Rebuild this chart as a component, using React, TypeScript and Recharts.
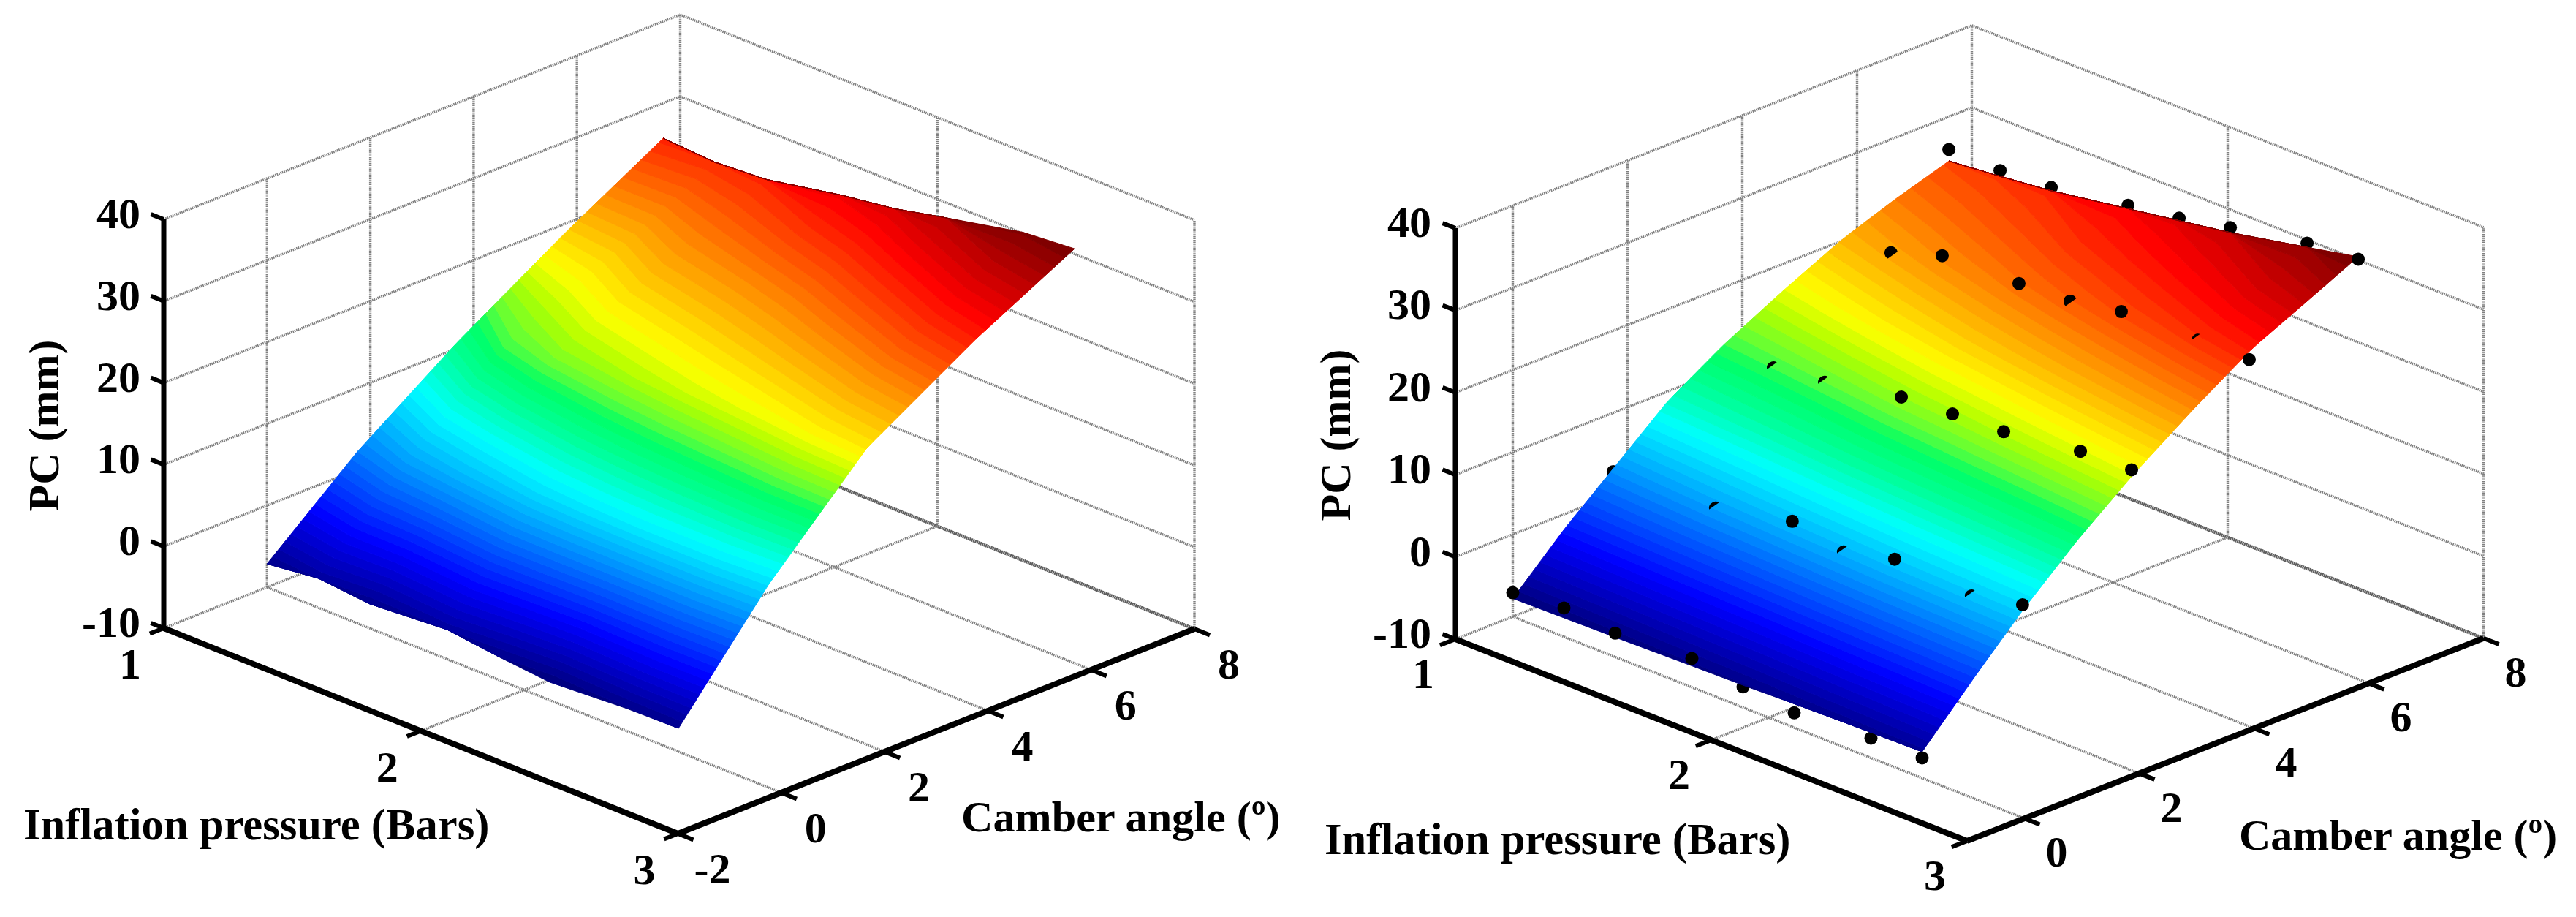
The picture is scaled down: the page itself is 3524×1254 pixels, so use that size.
/**
 * Two 3D surface panels of PC (mm) against inflation pressure and camber angle.
 * Recharts has no 3D, so every value goes through a fixed oblique projection into a
 * plane and the plane is drawn by a hidden number XAxis/YAxis pair.
 */
import { ScatterChart, Scatter, XAxis, YAxis } from 'recharts';

const PRESSURES = [1, 1.2, 1.4, 1.7, 1.9, 2.1, 2.4, 2.6];

// Left panel: surface through the measurements
const LEFT_CAMBERS = [0, 1.75, 3.65, 5.75, 7.67];
const LEFT_PC = [
  [-7.14, -6.41, -7.03, -6.39, -7.18, -7.8, -7.25, -7.16],
  [2.2, 3.8, 4.7, 6.0, 6.4, 6.6, 6.5, 6.1],
  [10.6, 13.2, 14.5, 15.5, 16.1, 16.6, 17.6, 18.0],
  [18.8, 19.2, 20.6, 21.5, 22.3, 23.4, 25.2, 26.0],
  [25.7, 25.3, 25.7, 27.5, 28.4, 29.8, 31.8, 32.3],
];

// Right panel: fitted surface
const RIGHT_CAMBERS = [0, 0.9, 1.75, 2.7, 3.65, 4.7, 5.75, 6.7, 7.6];
const RIGHT_PC = [
  [-7.8, -7.7, -7.6, -7.4, -7.3, -7.1, -6.9, -6.8],
  [-1.8, -1.6, -1.4, -1.15, -0.95, -0.75, -0.5, -0.3],
  [3.2, 3.6, 4.0, 4.5, 4.8, 5.1, 5.4, 5.6],
  [8.8, 9.1, 9.4, 10.0, 10.3, 10.6, 11.1, 11.5],
  [12.9, 13.3, 13.8, 14.6, 15.0, 15.5, 16.2, 16.7],
  [16.7, 17.4, 18.1, 19.1, 19.7, 20.3, 21.2, 21.8],
  [20.2, 21.0, 21.8, 23.0, 23.8, 24.6, 25.8, 26.5],
  [22.6, 23.3, 24.1, 25.5, 26.3, 27.2, 28.8, 29.6],
  [24.6, 25.2, 25.9, 27.4, 28.4, 29.4, 31.3, 32.6],
];

// Right panel: measured points
const DOT_CAMBERS = [0, 1.75, 3.65, 5.7, 7.6];
const DOT_PC = [
  [-7.1, -6.5, -7.1, -6.5, -7.5, -8.2, -7.6, -7.55],
  [2.84, 2.0, 3.3, 5.4, 4.1, 5.7, 4.9, 6.3],
  [10.5, 12.7, 13.4, 15.3, 15.7, 16.0, 17.3, 17.5],
  [18.0, 21.1, 23.2, 23.5, 23.8, 25.0, 25.2, 25.3],
  [26.0, 25.9, 26.3, 27.8, 28.7, 30.0, 31.8, 32.3],
];
// 'b' sits behind the surface, 'f' in front, a number is the share of the marker poking through
const DOT_VISIBILITY: (string | number)[][] = [
  ['f', 'f', 'f', 'f', 'b', 'f', 'b', 'f'],
  ['b', 'b', 0.3, 'f', 0.3, 'f', 0.3, 'f'],
  ['b', 0.3, 0.3, 'f', 'f', 'f', 'f', 'f'],
  ['b', 0.72, 'f', 'f', 0.6, 'f', 0.2, 'f'],
  ['f', 'b', 'b', 'b', 'b', 'b', 'b', 'f'],
];

const PC_TICKS = [-10, 0, 10, 20, 30, 40];
const PRESSURE_TICKS = [1, 2, 3];
const LEFT_CAMBER_TICKS = [-2, 0, 2, 4, 6, 8];
const RIGHT_CAMBER_TICKS = [0, 2, 4, 6, 8];

const WIDTH = 3524;
const HEIGHT = 1254;
const BAND_COUNT = 64;
const FONT = '"Liberation Serif", serif';
const GRID = { stroke: '#7f7f7f', strokeWidth: 3.4, strokeDasharray: '1.6 1' };
const GRID_DARK = { stroke: '#5f5f5f', strokeWidth: 4.5, strokeDasharray: '2 0.6' };
const AXIS = { stroke: '#000', strokeWidth: 8 };

// jet as it comes out in the picture: the green stretch is more saturated than the stock map
const COLOR_STOPS: [number, number[]][] = [
  [0, [0, 0, 130]],
  [0.125, [0, 0, 255]],
  [0.375, [0, 255, 255]],
  [0.45, [0, 255, 150]],
  [0.5, [0, 255, 102]],
  [0.53, [90, 255, 60]],
  [0.58, [176, 255, 0]],
  [0.625, [255, 255, 0]],
  [0.875, [255, 0, 0]],
  [1, [128, 0, 0]],
];

const LEFT_PANEL = {
  name: 'left',
  origin: [224, 859],
  perBar: [351.75, 140.5],
  perDeg: [70.65, -28],
  perMm: 11.18,
  camberMin: -2,
  camberTicks: LEFT_CAMBER_TICKS,
  cambers: LEFT_CAMBERS,
  pc: LEFT_PC,
  pcTitle: [80, 582],
  pressureTitle: [32, 1148, 60.6],
  camberTitle: [1315, 1137, 60.2],
  pressureLabel: [-46, 49],
  camberLabel: [47, 48],
  pcLabelX: -32,
};

const RIGHT_PANEL = {
  name: 'right',
  origin: [1991, 874],
  perBar: [350, 138],
  perDeg: [78.5, -30.8],
  perMm: 11.24,
  camberMin: -1,
  camberTicks: RIGHT_CAMBER_TICKS,
  cambers: RIGHT_CAMBERS,
  pc: RIGHT_PC,
  pcTitle: [1847, 595],
  pressureTitle: [1812, 1168, 60.6],
  camberTitle: [3063, 1162, 60],
  pressureLabel: [-44, 47],
  camberLabel: [44, 46],
  pcLabelX: -33,
};

type Panel = typeof LEFT_PANEL;

function project(panel: Panel, pressure: number, camber: number, pc: number) {
  const dp = pressure - 1;
  const dc = camber - panel.camberMin;
  const dz = pc + 10;
  return {
    x: panel.origin[0] + panel.perBar[0] * dp + panel.perDeg[0] * dc,
    y: panel.origin[1] + panel.perBar[1] * dp + panel.perDeg[1] * dc - panel.perMm * dz,
  };
}

function bandColor(f: number) {
  let i = 0;
  while (i < COLOR_STOPS.length - 2 && f > COLOR_STOPS[i + 1][0]) i++;
  const [f0, c0] = COLOR_STOPS[i];
  const [f1, c1] = COLOR_STOPS[i + 1];
  const t = (f - f0) / (f1 - f0);
  const mix = c0.map((v, k) => Math.round(v + t * (c1[k] - v)));
  return `rgb(${mix[0]},${mix[1]},${mix[2]})`;
}

/** Where a pressure column of the surface reaches a given PC level. */
function levelPoint(panel: Panel, j: number, level: number) {
  const col = panel.pc.map((row) => row[j]);
  const last = col.length - 1;
  if (level <= col[0]) return project(panel, PRESSURES[j], panel.cambers[0], col[0]);
  if (level >= col[last]) return project(panel, PRESSURES[j], panel.cambers[last], col[last]);
  let i = 0;
  while (col[i + 1] < level) i++;
  const t = (level - col[i]) / (col[i + 1] - col[i]);
  const camber = panel.cambers[i] + t * (panel.cambers[i + 1] - panel.cambers[i]);
  return project(panel, PRESSURES[j], camber, level);
}

const noMark = () => <g />;

const fillPolygon = (color: string) => (props: any) => {
  const d = props.points.map((p: any, i: number) => `${i ? 'L' : 'M'}${p.x} ${p.y}`).join('') + 'Z';
  return <path d={d} fill={color} stroke={color} strokeWidth={1} strokeLinejoin="round" />;
};

function surfaceBands(panel: Panel) {
  const all = panel.pc.flat();
  const min = Math.min(...all);
  const max = Math.max(...all);
  const step = (max - min) / BAND_COUNT;
  const bands = [];
  for (let k = 0; k < BAND_COUNT; k++) {
    const lo = min + k * step;
    const hi = lo + step;
    const lower = PRESSURES.map((_, j) => levelPoint(panel, j, lo));
    const upper = PRESSURES.map((_, j) => levelPoint(panel, j, hi)).reverse();
    bands.push(
      <Scatter
        key={`${panel.name}-band-${k}`}
        data={[...lower, ...upper]}
        dataKey="y"
        shape={noMark}
        line={fillPolygon(bandColor(k / (BAND_COUNT - 1)))}
        isAnimationActive={false}
      />,
    );
  }
  return bands;
}

function segment(key: string, a: any, b: any, style: any) {
  return (
    <Scatter key={key} data={[a, b]} dataKey="y" shape={noMark} line={style} isAnimationActive={false} />
  );
}

function gridLines(panel: Panel) {
  const cMin = panel.camberMin;
  const at = (p: number, c: number, z: number) => project(panel, p, c, z);
  const lines = [];
  const wallCambers = panel.camberTicks.filter((c) => c !== cMin);
  for (const z of PC_TICKS) {
    lines.push(segment(`${panel.name}-wall-a-${z}`, at(1, cMin, z), at(1, 8, z), GRID));
    lines.push(segment(`${panel.name}-wall-b-${z}`, at(1, 8, z), at(3, 8, z), GRID));
  }
  for (const c of wallCambers) {
    lines.push(segment(`${panel.name}-up-${c}`, at(1, c, -10), at(1, c, 40), GRID));
    lines.push(segment(`${panel.name}-floor-c-${c}`, at(1, c, -10), at(3, c, -10), c === 8 ? GRID_DARK : GRID));
  }
  for (const p of [2, 3]) {
    lines.push(segment(`${panel.name}-up-p-${p}`, at(p, 8, -10), at(p, 8, 40), GRID));
  }
  lines.push(segment(`${panel.name}-floor-p-2`, at(2, cMin, -10), at(2, 8, -10), GRID));
  return lines;
}

function axisLines(panel: Panel) {
  const cMin = panel.camberMin;
  const at = (p: number, c: number, z: number) => project(panel, p, c, z);
  const tick = { stroke: '#000', strokeWidth: 6 };
  const lines = [
    segment(`${panel.name}-axis-z`, at(1, cMin, -10), at(1, cMin, 40), { stroke: '#000', strokeWidth: 7 }),
    segment(`${panel.name}-axis-p`, at(1, cMin, -10), at(3, cMin, -10), AXIS),
    segment(`${panel.name}-axis-c`, at(3, cMin, -10), at(3, 8, -10), AXIS),
  ];
  for (const z of PC_TICKS) {
    lines.push(segment(`${panel.name}-tick-z-${z}`, at(1, cMin, z), at(0.95, cMin, z), tick));
  }
  for (const p of PRESSURE_TICKS) {
    lines.push(segment(`${panel.name}-tick-p-${p}`, at(p, cMin, -10), at(p, cMin - 0.27, -10), tick));
  }
  for (const c of panel.camberTicks) {
    lines.push(segment(`${panel.name}-tick-c-${c}`, at(3, c, -10), at(3.06, c, -10), tick));
  }
  return lines;
}

function label(key: string, x: number, y: number, value: string, anchor = 'middle', size = 60, rotate = false) {
  const shape = (props: any) => (
    <text
      x={props.cx}
      y={props.cy}
      textAnchor={anchor}
      fontFamily={FONT}
      fontWeight="bold"
      fontSize={size}
      fill="#000"
      transform={rotate ? `rotate(-90 ${props.cx} ${props.cy})` : undefined}
    >
      {value}
    </text>
  );
  return <Scatter key={key} data={[{ x, y }]} dataKey="y" shape={shape} isAnimationActive={false} />;
}

function labels(panel: Panel) {
  const cMin = panel.camberMin;
  const out = [];
  // digit centre sits about 20px above the baseline at this size
  for (const z of PC_TICKS) {
    const pos = project(panel, 1, cMin, z);
    out.push(label(`${panel.name}-lz-${z}`, pos.x + panel.pcLabelX, pos.y - 8 + 20, String(z), 'end'));
  }
  for (const p of PRESSURE_TICKS) {
    const pos = project(panel, p, cMin, -10);
    out.push(label(`${panel.name}-lp-${p}`, pos.x + panel.pressureLabel[0], pos.y + panel.pressureLabel[1] + 20, String(p)));
  }
  for (const c of panel.camberTicks) {
    const pos = project(panel, 3, c, -10);
    out.push(label(`${panel.name}-lc-${c}`, pos.x + panel.camberLabel[0], pos.y + panel.camberLabel[1] + 20, String(c)));
  }
  out.push(label(`${panel.name}-tz`, panel.pcTitle[0], panel.pcTitle[1], 'PC (mm)', 'middle', 60, true));
  out.push(label(`${panel.name}-tp`, panel.pressureTitle[0], panel.pressureTitle[1], 'Inflation pressure (Bars)', 'start', panel.pressureTitle[2]));
  out.push(label(`${panel.name}-tc`, panel.camberTitle[0], panel.camberTitle[1], 'Camber angle (º)', 'start', panel.camberTitle[2]));
  return out;
}

const DOT_R = 9;

function PartialDot(props: any) {
  const { cx, cy, payload } = props;
  const a = (-125 * Math.PI) / 180;
  const n = [Math.cos(a), Math.sin(a)];
  const t = [-n[1], n[0]];
  const d = DOT_R * (1 - 2 * payload.keep);
  const h = Math.sqrt(DOT_R * DOT_R - d * d);
  const x1 = cx + d * n[0] - h * t[0];
  const y1 = cy + d * n[1] - h * t[1];
  const x2 = cx + d * n[0] + h * t[0];
  const y2 = cy + d * n[1] + h * t[1];
  const large = payload.keep > 0.5 ? 1 : 0;
  return <path d={`M${x1} ${y1}A${DOT_R} ${DOT_R} 0 ${large} 1 ${x2} ${y2}Z`} fill="#000" />;
}

function dotLayer(test: (v: string | number) => boolean) {
  const pts: any[] = [];
  DOT_CAMBERS.forEach((c, i) => {
    PRESSURES.forEach((p, j) => {
      const v = DOT_VISIBILITY[i][j];
      if (test(v)) pts.push({ ...project(RIGHT_PANEL, p, c, DOT_PC[i][j]), keep: v });
    });
  });
  return pts;
}

export default function App() {
  return (
    <div style={{ position: 'absolute', left: 0, top: 0, width: WIDTH, height: HEIGHT, background: '#fff' }}>
      <ScatterChart width={WIDTH} height={HEIGHT} margin={{ top: 0, right: 0, bottom: 0, left: 0 }}>
        <XAxis type="number" dataKey="x" domain={[0, WIDTH]} hide />
        <YAxis type="number" dataKey="y" domain={[0, HEIGHT]} reversed hide />
        {gridLines(LEFT_PANEL)}
        {surfaceBands(LEFT_PANEL)}
        {axisLines(LEFT_PANEL)}
        {labels(LEFT_PANEL)}
        {gridLines(RIGHT_PANEL)}
        <Scatter
          data={dotLayer((v) => v === 'b')}
          dataKey="y"
          fill="#000"
          shape={(p: any) => <circle cx={p.cx} cy={p.cy} r={DOT_R} fill="#000" />}
          isAnimationActive={false}
        />
        {surfaceBands(RIGHT_PANEL)}
        <Scatter
          data={dotLayer((v) => v === 'f')}
          dataKey="y"
          fill="#000"
          shape={(p: any) => <circle cx={p.cx} cy={p.cy} r={DOT_R} fill="#000" />}
          isAnimationActive={false}
        />
        <Scatter
          data={dotLayer((v) => typeof v === 'number')}
          dataKey="y"
          fill="#000"
          shape={PartialDot}
          isAnimationActive={false}
        />
        {axisLines(RIGHT_PANEL)}
        {labels(RIGHT_PANEL)}
      </ScatterChart>
    </div>
  );
}
